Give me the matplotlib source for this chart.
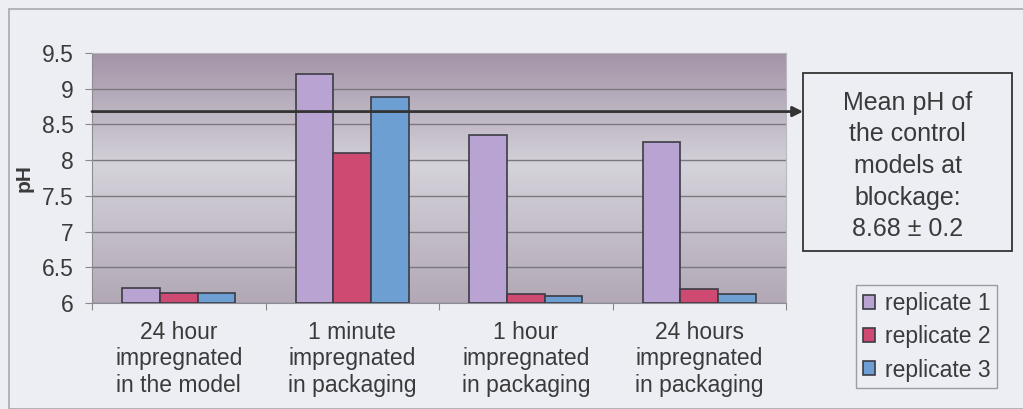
import matplotlib
matplotlib.use("Agg")
import matplotlib.pyplot as plt
import matplotlib.transforms as mtrans
from matplotlib.patches import Rectangle, Patch
from matplotlib.colors import LinearSegmentedColormap
import numpy as np

plt.rcParams['font.family'] = ['Liberation Sans', 'DejaVu Sans']

# data
categories = ["24 hour\nimpregnated\nin the model",
              "1 minute\nimpregnated\nin packaging",
              "1 hour\nimpregnated\nin packaging",
              "24 hours\nimpregnated\nin packaging"]
rep1 = [6.21, 9.20, 8.35, 8.25]
rep2 = [6.14, 8.10, 6.12, 6.19]
rep3 = [6.14, 8.88, 6.10, 6.12]
series_names = ["replicate 1", "replicate 2", "replicate 3"]
control_mean = 8.68
yticks = [6, 6.5, 7, 7.5, 8, 8.5, 9, 9.5]

colors = ["#b9a3d3", "#cf4a72", "#6d9fd2"]
edge = "#3c3c44"
txt = "#3a3a3a"

W, H = 1023, 409
fig = plt.figure(figsize=(W / 100, H / 100), dpi=100)
fig.patch.set_facecolor("#eceef4")

# outer chart frame
fig.patches.append(Rectangle((9 / W, 0), 1.2, 1 - 9 / H, transform=fig.transFigure,
                             fill=False, edgecolor="#a8a8b0", lw=1.2))

ax = fig.add_axes([92 / W, 1 - 303 / H, (786 - 92) / W, 250 / H])

# gradient plot background
cmap = LinearSegmentedColormap.from_list(
    "bg", [(0, "#b2a8b6"), (0.55, "#d4d2da"), (1.0, "#a494a7")])
grad = np.linspace(0, 1, 256).reshape(-1, 1)
ax.imshow(grad, cmap=cmap, aspect="auto", extent=(0, 4, 6, 9.5),
          origin="lower", zorder=0)

x = np.arange(len(categories)) + 0.5
bw = 0.217
for i, vals in enumerate([rep1, rep2, rep3]):
    ax.bar(x + (i - 1) * bw, np.array(vals) - 6, bw, bottom=6, color=colors[i],
           edgecolor=edge, linewidth=1.2, zorder=3, label=series_names[i])

ax.set_xlim(0, 4)
ax.set_ylim(6, 9.5)
ax.set_yticks(yticks)
ax.set_yticklabels(["6", "6.5", "7", "7.5", "8", "8.5", "9", "9.5"])
ax.yaxis.grid(True, color="#7c7880", lw=1.0, zorder=1)
ax.set_axisbelow(True)
ax.set_xticks([0, 1, 2, 3, 4])
ax.set_xticklabels([])
ax.set_xticks(x, minor=True)
ax.set_xticklabels(categories, minor=True, fontsize=16.5, color=txt, linespacing=1.18)
ax.tick_params(axis="x", which="minor", length=0, pad=13)
ax.tick_params(axis="x", which="major", length=5, color="#888888", direction="out")
ax.tick_params(axis="y", length=5, color="#888888", labelsize=16.5, labelcolor=txt, pad=8)
for s in ["top", "right"]:
    ax.spines[s].set_color("#b8b8c0")
for s in ["left", "bottom"]:
    ax.spines[s].set_color("#8c8c94")

ax.set_ylabel("pH", fontsize=15, fontweight="bold", color=txt, labelpad=6)

# mean control line with arrow to box
tr = mtrans.blended_transform_factory(fig.transFigure, ax.transData)
ax.annotate("", xy=(803 / W, control_mean), xycoords=tr,
            xytext=(0, control_mean), textcoords="data",
            arrowprops=dict(arrowstyle="-|>,head_length=0.6,head_width=0.3",
                            color="#333333", lw=2, shrinkA=0, shrinkB=0),
            zorder=5, annotation_clip=False)

fig.patches.append(Rectangle((803 / W, 1 - 251 / H), (1012 - 803) / W, 178 / H,
                             transform=fig.transFigure, facecolor="#eceef4",
                             edgecolor="#333333", lw=1.3))
fig.text(907.5 / W, 1 - 166 / H,
         "Mean pH of\nthe control\nmodels at\nblockage:\n8.68 \u00b1 0.2",
         ha="center", va="center", fontsize=18, color=txt, linespacing=1.4)

handles = [Patch(facecolor=c, edgecolor=edge, lw=1.2) for c in colors]
leg = fig.legend(handles, series_names, loc="upper left",
                 bbox_to_anchor=(856 / W, 1 - 285 / H), fontsize=16.5,
                 handlelength=0.55, handleheight=0.55, handletextpad=0.4,
                 labelspacing=0.45, borderpad=0.3, borderaxespad=0,
                 fancybox=False, frameon=True, edgecolor="#9c9ca4",
                 facecolor="#eceef4", framealpha=1)
for t in leg.get_texts():
    t.set_color(txt)

fig.savefig("out.png", dpi=100, facecolor=fig.get_facecolor())
